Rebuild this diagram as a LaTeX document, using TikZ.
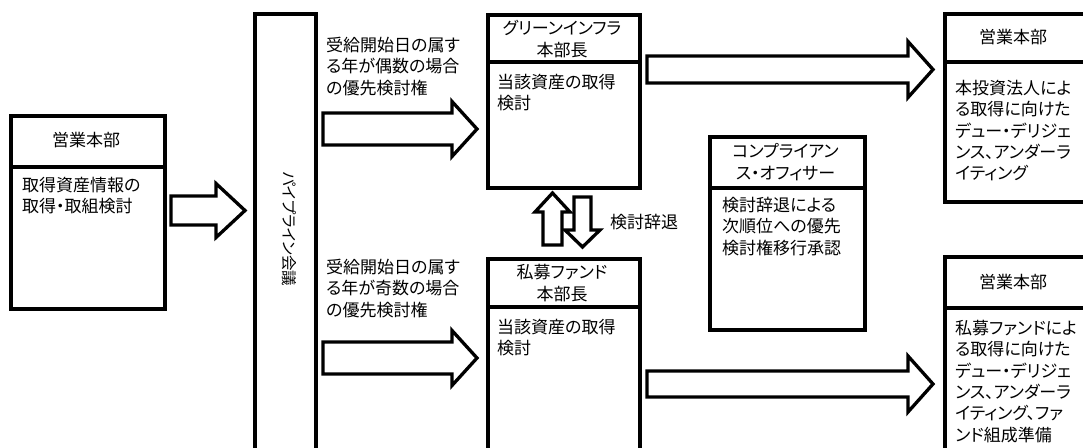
\documentclass[tikz,border=0pt]{standalone}
\usepackage{fontspec}
\setmainfont{Noto Sans CJK JP}[RawFeature=+palt]
\newcommand{\hblockarrow}[6]{% x0, x1, xtip, yc, shaft half, head half
  \draw[barrow] (#1,#4-#5) -- (#2,#4-#5) -- (#2,#4-#6) -- (#3,#4) -- (#2,#4+#6) -- (#2,#4+#5) -- (#1,#4+#5) -- cycle;}
\newcommand{\vblockarrow}[6]{% y0 (tail), y1 (head base), ytip, xc, shaft half, head half
  \draw[barrow] (#4-#5,#1) -- (#4-#5,#2) -- (#4-#6,#2) -- (#4,#3) -- (#4+#6,#2) -- (#4+#5,#2) -- (#4+#5,#1) -- cycle;}
\begin{document}
\begin{tikzpicture}[x=1pt,y=-1pt,
  box/.style={draw, line width=4pt, fill=white, inner sep=0pt, anchor=north west},
  barrow/.style={draw, line width=3.3pt, fill=white, line join=miter},
  divider/.style={line width=3.5pt},
  txt/.style={inner sep=0pt, font=\fontsize{17}{21.3}\selectfont},
  body/.style={txt, align=left, anchor=base west},
  title/.style={txt, align=center, anchor=center}]
\clip (0,0) rectangle (1083,447);
\fill[white] (0,0) rectangle (1083,447);

% left sales box
\node[box, minimum width=154pt, minimum height=193pt] (sales) at (9,114) {};
\draw[divider] (sales.west |- 0,167) -- (sales.east |- 0,167);
\node[title] (salesT) at (86,140) {営業本部};
\node[body] (salesB) at (22,212.8) {取得資産情報の\\取得・取組検討};

% pipeline
\node[box, minimum width=61pt, minimum height=460pt] (pipe) at (253,12) {};
\node[txt, rotate=-90, font=\fontsize{15.5}{18}\selectfont] (pipeT) at (289,229) {パイプライン会議};

% green infra
\node[box, minimum width=152pt, minimum height=173pt] (green) at (486,13) {};
\draw[divider] (green.west |- 0,62) -- (green.east |- 0,62);
\node[title] (greenT) at (562,39) {グリーンインフラ\\本部長};
\node[body] (greenB) at (497,109.8) {当該資産の取得\\検討};

% private fund
\node[box, minimum width=152pt, minimum height=220pt] (fund) at (486,257) {};
\draw[divider] (fund.west |- 0,307) -- (fund.east |- 0,307);
\node[title] (fundT) at (562,283) {私募ファンド\\本部長};
\node[body] (fundB) at (497,354.8) {当該資産の取得\\検討};

% compliance
\node[box, minimum width=155pt, minimum height=193pt] (comp) at (708,135) {};
\draw[divider] (comp.west |- 0,188) -- (comp.east |- 0,188);
\node[title] (compT) at (785.5,162) {コンプライアン\\ス・オフィサー};
\node[body] (compB) at (722,254.1) {検討辞退による\\次順位への優先\\検討権移行承認};

% right top sales
\node[box, minimum width=147pt, minimum height=188pt] (rtop) at (943,12) {};
\draw[divider] (rtop.west |- 0,62) -- (rtop.east |- 0,62);
\node[title] (rtopT) at (1013,37) {営業本部};
\node[body] (rtopB) at (955,179.7) {本投資法人によ\\る取得に向けた\\デュー・デリジェ\\ンス、アンダーラ\\イティング};

% right bottom sales
\node[box, minimum width=147pt, minimum height=220pt] (rbot) at (943,255) {};
\draw[divider] (rbot.west |- 0,308) -- (rbot.east |- 0,308);
\node[title] (rbotT) at (1013,282) {営業本部};
\node[body] (rbotB) at (955,441) {私募ファンドによ\\る取得に向けた\\デュー・デリジェ\\ンス、アンダーラ\\イティング、ファ\\ンド組成準備};

% labels
\node[body] (lblEven) at (326,94.1) {受給開始日の属す\\る年が偶数の場合\\の優先検討権};
\node[body] (lblOdd) at (326,316.1) {受給開始日の属す\\る年が奇数の場合\\の優先検討権};
\node[txt, anchor=west] (lblDecl) at (610,222) {検討辞退};

% block arrows
\hblockarrow{171}{216}{245}{210.5}{14.5}{27}
\hblockarrow{323}{452}{477}{129}{16}{27.5}
\hblockarrow{323}{452}{477}{358}{16}{27.5}
\hblockarrow{647}{908}{933}{69.5}{13.5}{28}
\hblockarrow{647}{908}{933}{384}{13}{28}
\vblockarrow{245}{212}{193}{552.5}{9.5}{17.5}
\vblockarrow{197}{230}{247}{582.5}{8.5}{17.5}
\end{tikzpicture}
\end{document}
